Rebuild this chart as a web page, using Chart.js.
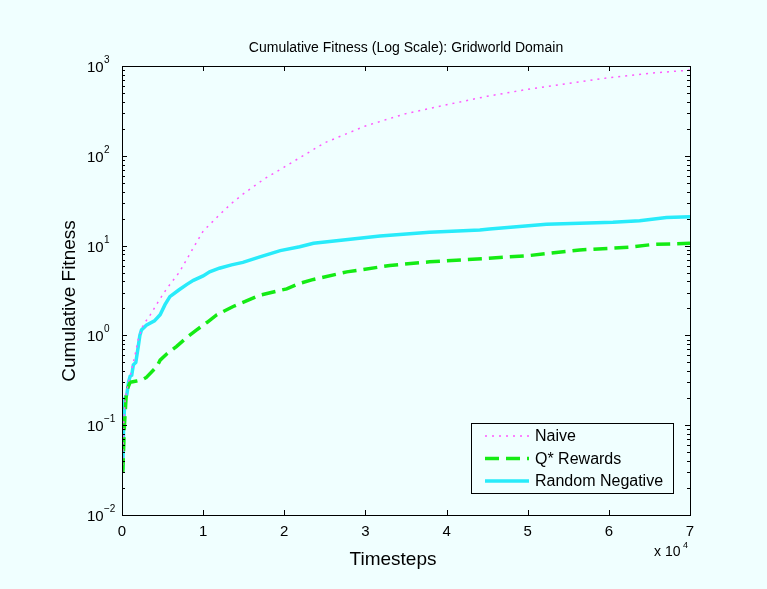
<!DOCTYPE html>
<html lang="en">
<head>
  <meta charset="UTF-8">
  <title>Cumulative Fitness (Log Scale): Gridworld Domain</title>
  <script src="https://cdn.jsdelivr.net/npm/chart.js"></script>
  <style>
    html, body { margin: 0; padding: 0; background: #f0ffff; }
    #wrap { width: 767px; height: 589px; }
  </style>
</head>
<body>
  <div id="wrap"><canvas id="fitnessChart"></canvas></div>

  <script>
    // timesteps are in units of 10^4
    const naiveT   = [0.005, 0.02, 0.04, 0.08, 0.12, 0.16, 0.2, 0.26, 0.35, 0.45, 0.55, 0.71, 0.85, 1.0, 1.2, 1.35, 1.5, 1.75, 2.0, 2.5, 3.0, 3.5, 4.0, 4.5, 5.0, 5.5, 6.0, 6.5, 7.0];
    const naiveFit = [0.03, 0.1, 0.2, 0.3, 0.42, 0.6, 0.9, 1.3, 1.7, 2.4, 3.3, 5.1, 8.5, 14.5, 22, 29.5, 38, 55, 75, 140, 215, 295, 370, 460, 550, 640, 740, 830, 900];

    const qstarT   = [0.01, 0.03, 0.05, 0.06, 0.1, 0.18, 0.25, 0.3, 0.43, 0.47, 0.55, 0.67, 0.8, 0.92, 1.05, 1.17, 1.37, 1.7, 2.03, 2.19, 2.36, 2.77, 3.3, 3.79, 4.49, 5.02, 5.64, 6.26, 6.54, 7.0];
    const qstarFit = [0.03, 0.1, 0.2, 0.245, 0.3, 0.31, 0.32, 0.34, 0.45, 0.53, 0.62, 0.75, 0.95, 1.15, 1.4, 1.7, 2.1, 2.8, 3.3, 3.8, 4.2, 5.1, 6.0, 6.6, 7.2, 7.75, 8.95, 9.6, 10.3, 10.6];

    const randT    = [0.01, 0.02, 0.037, 0.06, 0.08, 0.1, 0.12, 0.14, 0.17, 0.2, 0.22, 0.24, 0.3, 0.4, 0.47, 0.53, 0.59, 0.7, 0.8, 0.88, 1.0, 1.08, 1.2, 1.35, 1.49, 1.7, 1.95, 2.19, 2.36, 2.7, 3.18, 3.79, 4.41, 4.53, 5.23, 6.05, 6.38, 6.71, 7.0];
    const randFit  = [0.032, 0.1, 0.2, 0.22, 0.3, 0.35, 0.36, 0.47, 0.5, 0.75, 1.0, 1.15, 1.3, 1.45, 1.7, 2.2, 2.7, 3.2, 3.7, 4.1, 4.6, 5.1, 5.6, 6.1, 6.5, 7.5, 8.8, 9.7, 10.6, 11.5, 12.8, 14.1, 14.9, 15.3, 17.3, 18.2, 18.9, 20.6, 20.9];

    const xTicks = [0, 1, 2, 3, 4, 5, 6, 7];
    const yExps  = [-2, -1, 0, 1, 2, 3];
    const seriesNames = ['Naive', 'Q* Rewards', 'Random Negative'];

    const FONT = '"Liberation Sans", Arial, Helvetica, sans-serif';
    const BG = '#f0ffff';

    function toPoints(ts, vals) {
      return ts.map((t, i) => ({ x: t, y: vals[i] }));
    }

    // axes box, inward ticks, labels, title and legend in MATLAB style
    const matlabAxes = {
      id: 'matlabAxes',
      beforeDraw(chart) {
        const ctx = chart.ctx;
        ctx.save();
        ctx.fillStyle = BG;
        ctx.fillRect(0, 0, chart.width, chart.height);
        ctx.restore();
      },
      afterDraw(chart) {
        const ctx = chart.ctx;
        const a = chart.chartArea;
        const xs = chart.scales.x, ys = chart.scales.y;
        ctx.save();
        ctx.strokeStyle = '#000';
        ctx.lineWidth = 1;
        ctx.setLineDash([]);
        ctx.strokeRect(Math.round(a.left) + 0.5, Math.round(a.top) + 0.5,
          Math.round(a.right - a.left), Math.round(a.bottom - a.top));

        // x ticks
        ctx.beginPath();
        xTicks.forEach(v => {
          const px = Math.round(xs.getPixelForValue(v)) + 0.5;
          ctx.moveTo(px, a.bottom); ctx.lineTo(px, a.bottom - 5);
          ctx.moveTo(px, a.top); ctx.lineTo(px, a.top + 5);
        });
        // y major + minor ticks
        yExps.forEach(e => {
          const py = Math.round(ys.getPixelForValue(Math.pow(10, e))) + 0.5;
          ctx.moveTo(a.left, py); ctx.lineTo(a.left + 5, py);
          ctx.moveTo(a.right, py); ctx.lineTo(a.right - 5, py);
          if (e < 3) {
            for (let m = 2; m <= 9; m++) {
              const pm = Math.round(ys.getPixelForValue(m * Math.pow(10, e))) + 0.5;
              ctx.moveTo(a.left, pm); ctx.lineTo(a.left + 3, pm);
              ctx.moveTo(a.right, pm); ctx.lineTo(a.right - 3, pm);
            }
          }
        });
        ctx.stroke();

        ctx.fillStyle = '#000';
        // x tick labels
        ctx.font = '15px ' + FONT;
        ctx.textAlign = 'center';
        ctx.textBaseline = 'alphabetic';
        xTicks.forEach(v => {
          ctx.fillText(String(v), xs.getPixelForValue(v), a.bottom + 21);
        });
        // x 10^4 multiplier
        ctx.textAlign = 'left';
        ctx.font = '14px ' + FONT;
        ctx.fillText('x 10', 654, 556);
        ctx.font = '9px ' + FONT;
        ctx.fillText('4', 683, 548);

        // y tick labels 10^n
        yExps.forEach(e => {
          const py = ys.getPixelForValue(Math.pow(10, e));
          ctx.font = '15px ' + FONT;
          ctx.textBaseline = 'alphabetic';
          ctx.fillText('10', 87, py + 6);
          ctx.font = '10px ' + FONT;
          ctx.fillText(e < 0 ? '\u2212' + (-e) : String(e), 104, py - 3);
        });

        // title and axis titles
        ctx.textAlign = 'center';
        ctx.font = '14px ' + FONT;
        ctx.fillText('Cumulative Fitness (Log Scale): Gridworld Domain', 406, 52);
        ctx.font = '19px ' + FONT;
        ctx.fillText('Timesteps', 393, 565);
        ctx.save();
        ctx.translate(75, 301);
        ctx.rotate(-Math.PI / 2);
        ctx.fillText('Cumulative Fitness', 0, 0);
        ctx.restore();

        // legend
        const lx = 471, ly = 423, lw = 202, lh = 70;
        ctx.fillStyle = BG;
        ctx.fillRect(lx, ly, lw, lh);
        ctx.strokeStyle = '#000';
        ctx.lineWidth = 1;
        ctx.strokeRect(lx + 0.5, ly + 0.5, lw, lh);
        const rows = [436, 458.5, 481];
        chart.data.datasets.forEach((ds, i) => {
          ctx.strokeStyle = ds.borderColor;
          ctx.lineWidth = ds.borderWidth;
          ctx.setLineDash(ds.borderDash || []);
          ctx.beginPath();
          ctx.moveTo(485, rows[i]);
          ctx.lineTo(529, rows[i]);
          ctx.stroke();
          ctx.setLineDash([]);
          ctx.fillStyle = '#000';
          ctx.font = '16px ' + FONT;
          ctx.textAlign = 'left';
          ctx.textBaseline = 'middle';
          ctx.fillText(ds.label, 535, rows[i] + 1);
        });
        ctx.restore();
      }
    };

    new Chart(document.getElementById('fitnessChart'), {
      type: 'line',
      data: {
        datasets: [
          {
            label: seriesNames[0],
            data: toPoints(naiveT, naiveFit),
            borderColor: 'rgb(255,90,255)',
            borderWidth: 1.5,
            borderDash: [2, 5],
          },
          {
            label: seriesNames[1],
            data: toPoints(qstarT, qstarFit),
            borderColor: 'rgb(20,235,20)',
            borderWidth: 3.5,
            borderDash: [14, 7],
          },
          {
            label: seriesNames[2],
            data: toPoints(randT, randFit),
            borderColor: 'rgb(40,235,250)',
            borderWidth: 3.5,
          },
        ],
      },
      options: {
        responsive: true,
        maintainAspectRatio: false,
        animation: false,
        layout: { padding: { left: 122, right: 77, top: 66, bottom: 74 } },
        elements: {
          point: { radius: 0 },
          line: { tension: 0, fill: false },
        },
        scales: {
          x: { type: 'linear', min: 0, max: 7, display: false },
          y: { type: 'logarithmic', min: 0.01, max: 1000, display: false },
        },
        plugins: {
          legend: { display: false },
          title: { display: false },
          tooltip: { enabled: false },
        },
      },
      plugins: [matlabAxes],
    });
  </script>
</body>
</html>
